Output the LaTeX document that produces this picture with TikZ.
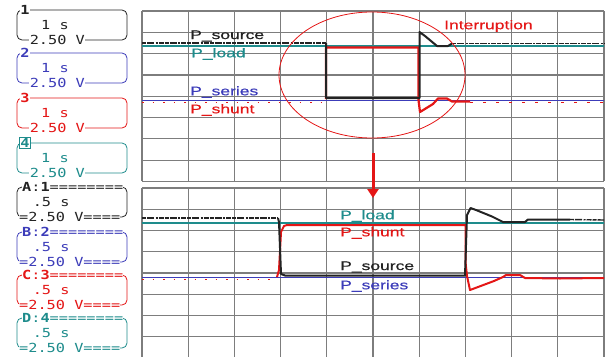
\documentclass[tikz,border=0pt]{standalone}
\usepackage{fontspec}
\newfontfamily\osctext[FakeStretch=1.4,FakeBold=0.6]{Liberation Sans}
\newfontfamily\oscmono[FakeStretch=1.22]{DejaVu Sans Mono}
\usetikzlibrary{arrows.meta}
\definecolor{chone}{RGB}{35,35,35}
\definecolor{chtwo}{RGB}{60,60,185}
\definecolor{chthree}{RGB}{228,22,22}
\definecolor{chfour}{RGB}{30,140,140}
\definecolor{rejilla}{RGB}{125,125,125}
\begin{document}
\begin{tikzpicture}[x=1pt,y=-1pt,
    senal/.style={line width=1.4pt, line join=round},
    ruido/.style={line width=1.4pt, dash pattern=on 4pt off 1pt on 7pt off 1.5pt on 2pt off 1pt on 5pt off 1pt},
    etiq/.style={anchor=west, inner sep=0pt, font=\osctext\fontsize{12.5}{12.5}\selectfont},
    cajatxt/.style={inner sep=0.6pt, fill=white, font=\oscmono\fontsize{12.5}{12.5}\selectfont},
    caja/.style={rounded corners=5pt, line width=0.8pt}]
                \useasboundingbox (0,0) rectangle (610,356);
                % cajas de canal
                \foreach \n/\y/\c in {1/10/chone,2/53/chtwo,3/98/chthree,4/143/chfour}{
                \draw[caja,\c] (17,\y) rectangle (127,\y+30);
                \node[cajatxt, text=\c] (num\n) at (25,\y) {\bfseries \n};
                \node[cajatxt, text=\c, fill=none] (tb\n) at (55,\y+15) {1 s};
                \node[cajatxt, text=\c, anchor=west] (vb\n) at (29,\y+30) {2.50 V};
                }
                \foreach \l/\n/\y/\c in {A/1/187/chone,B/2/232/chtwo,C/3/275/chthree,D/4/318/chfour}{
                \draw[caja,\c] (17,\y) rectangle (127,\y+30);
                \node[cajatxt, text=\c, anchor=west, inner sep=0pt] (zt\l) at (22,\y) {{\bfseries \l}:{\bfseries \n}========};
                \node[cajatxt, text=\c, fill=none, anchor=west] (zb\l) at (32,\y+15) {.5 s};
                \node[cajatxt, text=\c, anchor=west, inner sep=0pt] (zv\l) at (19,\y+30) {=2.50 V====};
                }
                \draw[chfour, line width=0.8pt] (num4.south west) rectangle (num4.north east);
                % rejilla superior
                \foreach \i in {0,...,10}
                \draw[rejilla, line width=1.2pt] (142+\i*46.2,11) -- (142+\i*46.2,181.4);
                \foreach \j in {0,...,8}
                \draw[rejilla, line width=1.2pt] (142,11+\j*21.3) -- (604,11+\j*21.3);
                % rejilla inferior
                \foreach \i in {0,...,10}
                \draw[rejilla, line width=1.2pt] (142+\i*46.2,188) -- (142+\i*46.2,358);
                \foreach \j in {0,...,8}
                \draw[rejilla, line width=1.2pt] (142,188+\j*21.25) -- (604,188+\j*21.25);
                % trazas superiores
                \draw[senal, chfour] (142,46) -- (604,46);
                \draw[chthree, line width=1pt, dash pattern=on 1.5pt off 9pt] (142,102) -- (326,102);
                \draw[senal, chtwo] (142,100.5) -- (604,100.5);
                \draw[senal, chthree, line width=2.2pt] (326,99) -- (326,47.5) -- (418.5,47.5) -- (418.5,100) -- (420,112) -- (433,104) -- (438,98.5) -- (447,98.5) -- (452,101.5) -- (470,101.5);
                \draw[chthree, line width=1pt, dash pattern=on 3pt off 10pt] (470,102) -- (604,102);
                \draw[ruido, chone] (142,43) -- (326,43);
                \draw[senal, chone, line width=2pt] (326,43) -- (326,98) -- (419.5,98) -- (419.5,32) -- (425,36) -- (437,46) -- (448,46) -- (452,43.5);
                \draw[ruido, chone] (452,43.5) -- (604,43.5);
                % trazas inferiores
                \draw[senal, chfour] (142,223) -- (604,223);
                \draw[chthree, line width=1pt, dash pattern=on 1.5pt off 9pt] (142,279) -- (278,279);
                \draw[senal, chtwo] (142,277.5) -- (604,277.5);
                \draw[senal, chthree, line width=2pt] (277,277) -- (279,270) -- (281,232) -- (284,226) -- (287,225) -- (465.5,225) -- (465.5,262) -- (467,276) -- (470,290) -- (494,281) -- (503,277) -- (506,275) -- (520,275) -- (525,278) -- (560,278.5) -- (604,278);
                \draw[ruido, chone] (142,218) -- (278,218);
                \draw[senal, chone, line width=2pt] (278,218) -- (279,222) -- (281,274) -- (285,275.5) -- (465,275.5) -- (466,245) -- (467,215) -- (470.5,208) -- (476,210) -- (492,216.5) -- (503,222) -- (525,222) -- (528,219.5) -- (570,219.5);
                \draw[ruido, chone] (570,219.5) -- (604,220);
                % zoom
                \draw[chthree, line width=0.8pt] (372,75) ellipse [x radius=93, y radius=63];
                \coordinate (flechaA) at (373,153);
                \coordinate (flechaB) at (373,198);
                \draw[chthree, line width=3pt, -{Triangle[width=11pt,length=9pt]}] (flechaA) -- (flechaB);
                % etiquetas
                \node[etiq, text=chone] (src1) at (190,36) {P\_source};
                \node[etiq, text=chfour] (load1) at (191,54) {P\_load};
                \node[etiq, text=chtwo] (ser1) at (190,92) {P\_series};
                \node[etiq, text=chthree] (shunt1) at (190,110) {P\_shunt};
                \node[etiq, text=chthree] (intr) at (444,26) {Interruption};
                \node[etiq, text=chfour] (load2) at (340,216) {P\_load};
                \node[etiq, text=chthree] (shunt2) at (340,233) {P\_shunt};
                \node[etiq, text=chone] (src2) at (340,267) {P\_source};
                \node[etiq, text=chtwo] (ser2) at (340,286) {P\_series};
\end{tikzpicture}
\end{document}
